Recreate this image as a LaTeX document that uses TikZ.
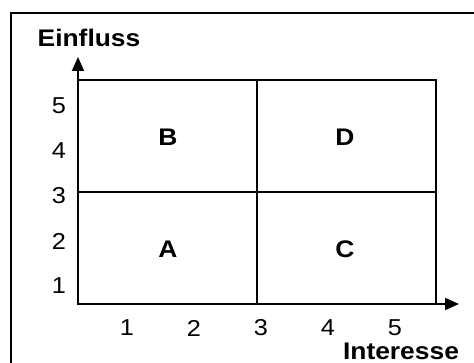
\documentclass[tikz,border=0pt]{standalone}
\usepackage{fontspec}
\usepackage{graphicx}
\setmainfont{Liberation Sans}
\usetikzlibrary{arrows.meta}
\newcommand{\sxw}[1]{\scalebox{1.1}[1]{#1}}
\begin{document}
\begin{tikzpicture}[x=1pt,y=-1pt,
  ln/.style={line width=2pt},
  ax/.style={line width=2pt,-{Triangle[length=14pt,width=12pt]}},
  num/.style={font=\fontsize{23}{25}\selectfont,inner sep=0pt},
  lab/.style={font=\fontsize{24}{26}\selectfont\bfseries,inner sep=0pt}]
\useasboundingbox (0,0) rectangle (474,363);
% outer frame (cropped at right and bottom)
\coordinate (fl) at (11,363);
\coordinate (ftl) at (11,13);
\coordinate (fr) at (474,13);
\draw[ln] (fl) -- (ftl) -- (fr);
% grid
\coordinate (o) at (78,304);
\coordinate (gtr) at (436,80);
\coordinate (mt) at (257,80);
\coordinate (mb) at (257,304);
\coordinate (ml) at (78,192);
\coordinate (mr) at (436,192);
\draw[ln] (o) rectangle (gtr);
\draw[ln] (mt) -- (mb);
\draw[ln] (ml) -- (mr);
% axes
\coordinate (ytip) at (78,57);
\coordinate (xtip) at (459,304);
\draw[ax] (o) -- (ytip);
\draw[ax] (o) -- (xtip);
% axis titles
\node[lab] (ein) at (89,38) {\sxw{Einfluss}};
\node[lab] (int) at (401,351) {\sxw{Interesse}};
% y numbers
\node[num] (y5) at (59,106) {\sxw{5}};
\node[num] (y4) at (59,151) {\sxw{4}};
\node[num] (y3) at (59,196) {\sxw{3}};
\node[num] (y2) at (59,241) {\sxw{2}};
\node[num] (y1) at (59,286) {\sxw{1}};
% x numbers
\node[num] (x1) at (127,328) {\sxw{1}};
\node[num] (x2) at (194,328) {\sxw{2}};
\node[num] (x3) at (261,328) {\sxw{3}};
\node[num] (x4) at (328,328) {\sxw{4}};
\node[num] (x5) at (395,328) {\sxw{5}};
% quadrant letters
\node[lab] (qb) at (168,137) {\sxw{B}};
\node[lab] (qd) at (345,137) {\sxw{D}};
\node[lab] (qa) at (168,249) {\sxw{A}};
\node[lab] (qc) at (345,249) {\sxw{C}};
\end{tikzpicture}
\end{document}
